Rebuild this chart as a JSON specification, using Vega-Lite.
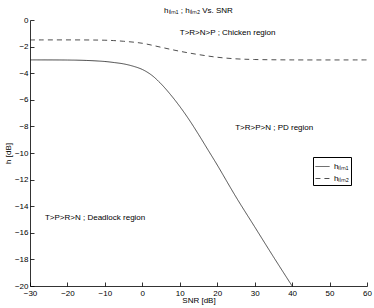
{
  "$schema": "https://vega.github.io/schema/vega-lite/v6.json",
  "autosize": {"type": "none"},
  "width": 337,
  "height": 266,
  "padding": {"left": 30, "top": 20, "right": 7, "bottom": 22},
  "background": "white",
  "config": {
    "font": "Liberation Sans",
    "view": {"stroke": null},
    "axis": {"grid": false, "domainColor": "#000", "tickColor": "#000", "labelColor": "#000", "titleColor": "#000", "labelFontSize": 8, "titleFontSize": 8, "titleFontWeight": "normal", "tickSize": -4, "domainWidth": 0.8, "tickWidth": 0.8, "labelFont": "Liberation Sans", "titleFont": "Liberation Sans"}
  },
  "title": {"text": "hₗᵢₘ₁ ; hₗᵢₘ₂ Vs. SNR", "fontSize": 8, "fontWeight": "normal", "font": "Liberation Sans", "anchor": "middle", "offset": 1, "color": "#000"},
  "datasets": {
    "curves": [
      {"series": "hₗᵢₘ₁", "snr": -30, "h": -3.0},
      {"series": "hₗᵢₘ₁", "snr": -20, "h": -3.01},
      {"series": "hₗᵢₘ₁", "snr": -15, "h": -3.04},
      {"series": "hₗᵢₘ₁", "snr": -10, "h": -3.12},
      {"series": "hₗᵢₘ₁", "snr": -7.5, "h": -3.2},
      {"series": "hₗᵢₘ₁", "snr": -5, "h": -3.3},
      {"series": "hₗᵢₘ₁", "snr": -2.5, "h": -3.47},
      {"series": "hₗᵢₘ₁", "snr": 0, "h": -3.72},
      {"series": "hₗᵢₘ₁", "snr": 2.5, "h": -4.15},
      {"series": "hₗᵢₘ₁", "snr": 5, "h": -4.8},
      {"series": "hₗᵢₘ₁", "snr": 7.5, "h": -5.6},
      {"series": "hₗᵢₘ₁", "snr": 10, "h": -6.5},
      {"series": "hₗᵢₘ₁", "snr": 12.5, "h": -7.5},
      {"series": "hₗᵢₘ₁", "snr": 15, "h": -8.6},
      {"series": "hₗᵢₘ₁", "snr": 17.5, "h": -9.75},
      {"series": "hₗᵢₘ₁", "snr": 20, "h": -10.9},
      {"series": "hₗᵢₘ₁", "snr": 25, "h": -13.3},
      {"series": "hₗᵢₘ₁", "snr": 30, "h": -15.55},
      {"series": "hₗᵢₘ₁", "snr": 35, "h": -17.8},
      {"series": "hₗᵢₘ₁", "snr": 40, "h": -20.0},
      {"series": "hₗᵢₘ₂", "snr": -30, "h": -1.5},
      {"series": "hₗᵢₘ₂", "snr": -10, "h": -1.52},
      {"series": "hₗᵢₘ₂", "snr": -5, "h": -1.6},
      {"series": "hₗᵢₘ₂", "snr": 0, "h": -1.75},
      {"series": "hₗᵢₘ₂", "snr": 5, "h": -2.05},
      {"series": "hₗᵢₘ₂", "snr": 10, "h": -2.35},
      {"series": "hₗᵢₘ₂", "snr": 15, "h": -2.6},
      {"series": "hₗᵢₘ₂", "snr": 20, "h": -2.8},
      {"series": "hₗᵢₘ₂", "snr": 25, "h": -2.92},
      {"series": "hₗᵢₘ₂", "snr": 30, "h": -2.97},
      {"series": "hₗᵢₘ₂", "snr": 40, "h": -3.0},
      {"series": "hₗᵢₘ₂", "snr": 60, "h": -3.0}
    ],
    "notes": [
      {"snr": 10, "h": -1.0, "label": "T>R>N>P ; Chicken region"},
      {"snr": 24.8, "h": -8.1, "label": "T>R>P>N ; PD region"},
      {"snr": -26, "h": -14.9, "label": "T>P>R>N ; Deadlock region"}
    ]
  },
  "layer": [
    {
      "data": {"name": "curves"},
      "mark": {"type": "line", "interpolate": "catmull-rom", "strokeWidth": 0.8, "color": "#222", "clip": true},
      "encoding": {
        "x": {"field": "snr", "type": "quantitative", "scale": {"domain": [-30, 60], "nice": false}, "axis": {"title": "SNR [dB]", "values": [-30, -20, -10, 0, 10, 20, 30, 40, 50, 60], "tickCount": 30, "format": "d", "labelPadding": 7, "titlePadding": -1, "labelOverlap": false, "labelFlush": false, "labelBound": false}},
        "y": {"field": "h", "type": "quantitative", "scale": {"domain": [-20, 0], "nice": false}, "axis": {"title": "h [dB]", "values": [0, -2, -4, -6, -8, -10, -12, -14, -16, -18, -20], "tickCount": 30, "format": "d", "labelPadding": 6, "titlePadding": 2, "labelOverlap": false, "labelFlush": false, "labelBound": false}},
        "strokeDash": {"field": "series", "type": "nominal", "scale": {"domain": ["hₗᵢₘ₁", "hₗᵢₘ₂"], "range": [[1, 0], [5, 4]]},
          "legend": {"title": null, "orient": "none", "legendX": 283, "legendY": 137, "strokeColor": "#000", "fillColor": "white", "padding": 2, "symbolType": "stroke", "symbolSize": 200, "symbolStrokeWidth": 0.8, "symbolStrokeColor": "#222", "labelFontSize": 8, "labelFont": "Liberation Sans", "labelColor": "#000", "rowPadding": 0, "labelLimit": 40}}
      }
    },
    {
      "data": {"name": "notes"},
      "mark": {"type": "text", "align": "left", "baseline": "middle", "fontSize": 8, "font": "Liberation Sans", "color": "#000"},
      "encoding": {
        "x": {"field": "snr", "type": "quantitative"},
        "y": {"field": "h", "type": "quantitative"},
        "text": {"field": "label"}
      }
    }
  ]
}
